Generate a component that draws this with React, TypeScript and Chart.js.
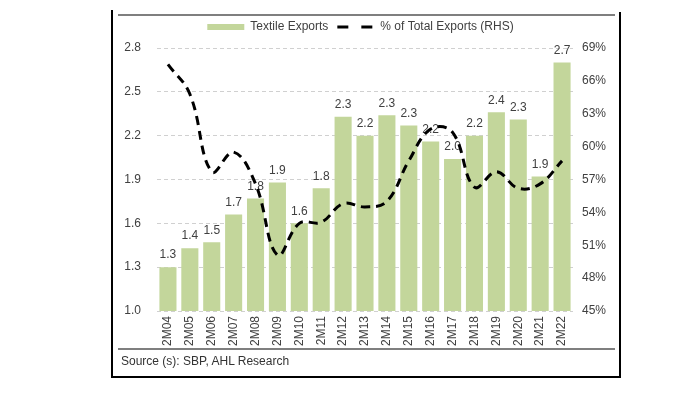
import React, { useEffect, useRef } from "react";
import { Chart, registerables } from "chart.js";

Chart.register(...registerables);

const categories = ["2M04","2M05","2M06","2M07","2M08","2M09","2M10","2M11","2M12","2M13","2M14","2M15","2M16","2M17","2M18","2M19","2M20","2M21","2M22"];
const textileExports = [1.30, 1.43, 1.47, 1.66, 1.77, 1.88, 1.60, 1.84, 2.33, 2.20, 2.34, 2.27, 2.16, 2.04, 2.20, 2.36, 2.31, 1.92, 2.70];
const shareOfTotal = [67.5, 64.8, 57.7, 59.5, 56.6, 50.1, 53.0, 53.1, 54.8, 54.5, 55.0, 58.7, 61.6, 61.3, 56.3, 57.7, 56.2, 56.6, 58.7];
const leftTicks = { min: 1.0, max: 2.8, step: 0.3 };
const rightTicks = { min: 45, max: 69, step: 3 };

const FONT = "'Liberation Sans', Arial, sans-serif";

const barLabels = {
  id: "barLabels",
  afterDatasetDraw(chart: any, args: any) {
    if (args.index !== 0) return;
    const ctx = chart.ctx;
    const meta = chart.getDatasetMeta(0);
    ctx.save();
    ctx.font = `12px ${FONT}`;
    ctx.fillStyle = "#404040";
    ctx.textAlign = "center";
    ctx.textBaseline = "bottom";
    meta.data.forEach((el: any, i: number) => {
      const v = chart.data.datasets[0].data[i] as number;
      ctx.fillText(v.toFixed(1), el.x, el.y - 6);
    });
    ctx.restore();
  },
};

const legendHeight = {
  id: "legendHeight",
  beforeInit(chart: any) {
    const lg = chart.legend;
    if (!lg) return;
    const orig = lg.fit;
    lg.fit = function () {
      orig.call(this);
      this.height = 36;
    };
  },
  afterLayout(chart: any) {
    const lg = chart.legend;
    if (!lg) return;
    lg.left -= 6;
    lg.right -= 6;
  },
};

export default function App() {
  const ref = useRef<HTMLCanvasElement | null>(null);
  useEffect(() => {
    if (!ref.current) return;
    const chart = new Chart(ref.current, {
      data: {
        labels: categories,
        datasets: [
          {
            type: "bar",
            label: "Textile Exports",
            data: textileExports,
            backgroundColor: "#c3d69b",
            borderWidth: 0,
            barPercentage: 0.78,
            categoryPercentage: 1,
            yAxisID: "y",
            order: 2,
          },
          {
            type: "line",
            label: "% of Total Exports (RHS)",
            data: shareOfTotal,
            borderColor: "#000000",
            backgroundColor: "#000000",
            borderWidth: 3,
            borderDash: [9, 6],
            tension: 0.4,
            pointRadius: 0,
            fill: false,
            yAxisID: "y1",
            order: 1,
          },
        ],
      } as any,
      options: {
        responsive: false,
        animation: false,
        devicePixelRatio: 1,
        layout: { padding: { left: 113, right: 80, top: 12, bottom: 50 } },
        plugins: {
          legend: {
            position: "top",
            labels: {
              font: { family: FONT, size: 12 },
              color: "#404040",
              usePointStyle: true,
              pointStyleWidth: 37,
              boxHeight: 6,
              padding: 9,
              sort: (a: any, b: any) => a.datasetIndex - b.datasetIndex,
              generateLabels(chart: any) {
                const items = Chart.defaults.plugins.legend.labels.generateLabels(chart);
                return items.map((it: any) => {
                  if (it.datasetIndex === 1) {
                    return { ...it, pointStyle: "line", lineDash: [11, 13], lineWidth: 3, strokeStyle: "#000", fillStyle: "#000" };
                  }
                  return { ...it, pointStyle: "rect", lineWidth: 0, strokeStyle: "#c3d69b" };
                });
              },
            },
          },
          tooltip: { enabled: false },
        },
        scales: {
          x: {
            grid: { display: false, drawTicks: false },
            border: { display: false },
            ticks: {
              font: { family: FONT, size: 12 },
              color: "#404040",
              minRotation: 90,
              maxRotation: 90,
              autoSkip: false,
              padding: 5,
            },
            afterFit(scale: any) {
              scale.height = 39;
            },
          },
          y: {
            position: "left",
            min: leftTicks.min,
            max: leftTicks.max,
            grid: { color: "#d0d0d0", drawTicks: false, lineWidth: 1 },
            border: { display: false, dash: [4, 3] },
            ticks: {
              stepSize: leftTicks.step,
              font: { family: FONT, size: 12 },
              color: "#404040",
              padding: 16,
              callback: (v: any) => Number(v).toFixed(1),
            },
            afterFit(scale: any) {
              scale.width = 44;
            },
          },
          y1: {
            position: "right",
            min: rightTicks.min,
            max: rightTicks.max,
            grid: { display: false, drawTicks: false },
            border: { display: false },
            ticks: {
              stepSize: rightTicks.step,
              font: { family: FONT, size: 12 },
              color: "#404040",
              padding: 9,
              callback: (v: any) => `${v}%`,
            },
            afterFit(scale: any) {
              scale.width = 47;
            },
          },
        },
      } as any,
      plugins: [barLabels, legendHeight],
    });
    return () => chart.destroy();
  }, []);

  const line = (s: React.CSSProperties) => <div style={{ position: "absolute", ...s }} />;

  return (
    <div style={{ position: "absolute", left: 0, top: 0, width: 700, height: 400, background: "#fff" }}>
      <canvas ref={ref} width={700} height={400} style={{ position: "absolute", left: 0, top: 0, width: 700, height: 400 }} />
      {line({ left: 111, top: 10, width: 2, height: 368, background: "#000" })}
      {line({ left: 619, top: 12, width: 2, height: 366, background: "#000" })}
      {line({ left: 111, top: 376, width: 510, height: 2, background: "#000" })}
      {line({ left: 118, top: 14, width: 497, height: 1.5, background: "#7f7f7f" })}
      {line({ left: 118, top: 348, width: 497, height: 1.5, background: "#7f7f7f" })}
      <div
        style={{
          position: "absolute",
          left: 121,
          top: 354,
          fontFamily: FONT,
          fontSize: 12,
          color: "#333",
          lineHeight: "14px",
          whiteSpace: "nowrap",
        }}
      >
        Source (s): SBP, AHL Research
      </div>
    </div>
  );
}
